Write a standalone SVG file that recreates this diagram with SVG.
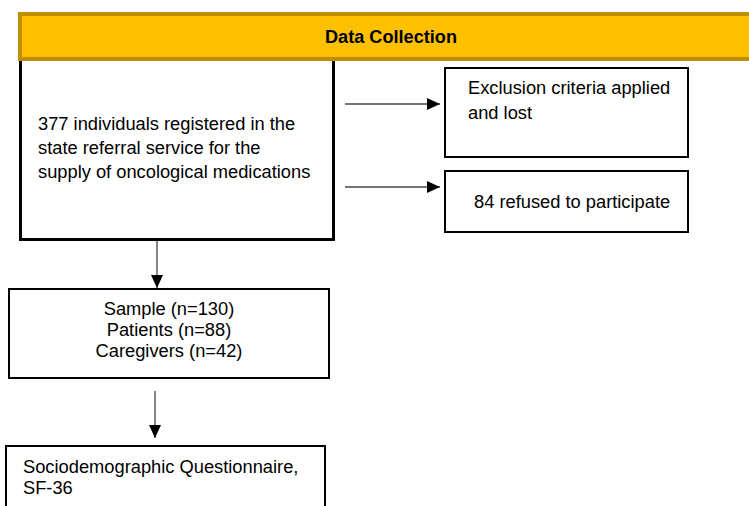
<svg xmlns="http://www.w3.org/2000/svg" width="749" height="506" viewBox="0 0 749 506">
  <style>
    .box { fill: #ffffff; stroke: #000000; stroke-width: 2; }
    .main { fill: #ffffff; stroke: #000000; stroke-width: 3; }
    .t { font-family: "Liberation Sans", Arial, sans-serif; font-size: 18.3px; fill: #000000; }
    .h { font-family: "Liberation Sans", Arial, sans-serif; font-size: 18px; font-weight: bold; fill: #000000; }
    .conn { stroke: #444444; stroke-width: 1.3; fill: none; marker-end: url(#arrow); }
  </style>
  <defs>
    <marker id="arrow" markerUnits="userSpaceOnUse" markerWidth="13" markerHeight="12" refX="13" refY="6" orient="auto">
      <path d="M0,0 L13,6 L0,12 Z" fill="#000000"/>
    </marker>
  </defs>
  <rect width="749" height="506" fill="#ffffff"/>

  <g id="main-node">
    <rect class="main" x="20.5" y="50" width="313" height="189.5"/>
    <text class="t" x="38" y="130">377 individuals registered in the</text>
    <text class="t" x="38" y="154">state referral service for the</text>
    <text class="t" x="38" y="178">supply of oncological medications</text>
  </g>

  <g id="header">
    <rect x="20" y="14" width="740" height="45" fill="#FFC000" stroke="#BF8F00" stroke-width="4"/>
    <text class="h" x="391" y="43" text-anchor="middle" textLength="132" lengthAdjust="spacingAndGlyphs">Data Collection</text>
  </g>

  <g id="exclusion-node">
    <rect class="box" x="445" y="68" width="243" height="89"/>
    <text class="t" x="468" y="94">Exclusion criteria applied</text>
    <text class="t" x="468" y="119">and lost</text>
  </g>

  <g id="refused-node">
    <rect class="box" x="445" y="171" width="243" height="61"/>
    <text class="t" x="474" y="208">84 refused to participate</text>
  </g>

  <g id="sample-node">
    <rect class="box" x="9" y="289" width="320" height="89"/>
    <text class="t" x="169" y="315" text-anchor="middle">Sample (n=130)</text>
    <text class="t" x="169" y="336" text-anchor="middle">Patients (n=88)</text>
    <text class="t" x="169" y="357" text-anchor="middle">Caregivers (n=42)</text>
  </g>

  <g id="questionnaire-node">
    <rect class="box" x="6" y="446" width="319" height="80"/>
    <text class="t" x="23" y="473">Sociodemographic Questionnaire,</text>
    <text class="t" x="23" y="494">SF-36</text>
  </g>

  <g id="connectors">
    <line class="conn" x1="345" y1="104" x2="440" y2="104"/>
    <line class="conn" x1="345" y1="187" x2="440" y2="187"/>
    <line class="conn" x1="157" y1="241" x2="157" y2="288"/>
    <line class="conn" x1="155" y1="391" x2="155" y2="438"/>
  </g>
</svg>
